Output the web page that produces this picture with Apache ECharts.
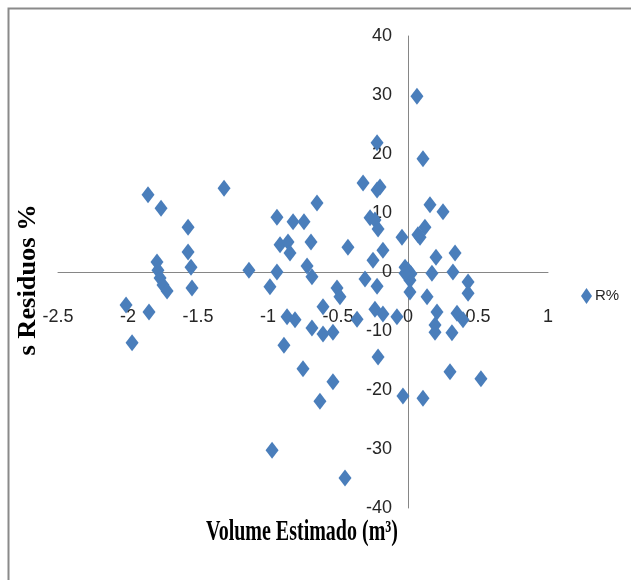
<!DOCTYPE html>
<html>
<head>
<meta charset="utf-8">
<script src="https://cdn.jsdelivr.net/npm/echarts@6/dist/echarts.min.js"></script>
<style>
html,body{margin:0;padding:0;background:#fff;}
#chart{width:631px;height:580px;}
</style>
</head>
<body>
<div id="chart"></div>
<script>
// Volume Estimado (m3)
var volume = [
  -1.857,-1.764,-1.571,-1.571,-1.55,-1.543,-1.314,-1.793,-1.786,-1.771,
  -1.75,-1.721,-2.014,-1.85,-1.971,-1.136,-0.936,-0.821,-0.743,-0.65,
  -0.936,-0.986,-0.914,-0.857,-0.843,-0.864,-0.807,-0.886,-0.693,-0.721,
  -0.686,-0.429,-0.321,-0.221,-0.2,-0.271,-0.236,-0.214,-0.179,-0.25,
  -0.307,-0.221,-0.507,-0.486,-0.607,-0.686,-0.607,-0.536,-0.364,-0.236,
  -0.179,-0.079,-0.75,-0.214,-0.536,-0.629,-0.971,-0.45,-0.036,0.107,
  0.064,-0.221,0.107,0.157,0.25,0.121,0.086,-0.043,0.2,0.336,
  0.0,0.171,0.321,0.014,0.014,0.429,0.429,0.136,0.207,0.193,
  0.193,0.35,0.393,0.314,0.3,0.521,-0.021,0.021,-0.021,0.071
];
// Resíduos %
var residuos = [
  13.1,10.8,7.6,3.4,0.8,-2.7,14.2,1.7,0.3,-1.0,
  -2.2,-3.2,-5.6,-6.8,-12.0,0.3,9.3,8.5,8.5,11.7,
  0.0,-2.5,4.6,5.1,3.2,-7.6,-8.1,-12.4,5.1,1.0,
  -0.8,4.2,15.1,13.9,14.4,9.2,8.8,7.3,3.7,2.0,
  -1.2,-2.4,-2.7,-4.2,-5.9,-9.5,-10.5,-10.2,-8.0,-6.3,
  -7.1,-7.6,-16.4,-14.4,-18.6,-21.9,-30.2,-34.9,-21.0,-21.4,
  29.8,21.9,19.2,11.4,10.2,7.6,5.9,5.9,2.5,3.2,
  0.3,-0.2,0.0,-1.4,-3.4,-1.7,-3.6,-4.2,-6.8,-9.0,
  -10.2,-7.0,-8.1,-10.3,-16.9,-18.1,0.8,-0.3,-0.2,6.3
];
var xTicks = {min:-2.5, max:1, interval:0.5};
var yTicks = {min:-40, max:40, interval:10};
var seriesName = 'R%';
var xTitle = 'Volume Estimado (m\u00b3)';
var yTitle = 's Residuos %';

var points = volume.map(function(v,i){ return [v, residuos[i]]; });

var labelFont = '"Liberation Sans",Arial,sans-serif';
var chart = echarts.init(document.getElementById('chart'), null, {renderer:'canvas'});
var W = 631, H = 580, gl = 58, gr = 83, gt = 36, gb = 72;
var plotW = W - gl - gr, plotH = H - gt - gb;
// place each axis at the other axis' zero
var yOffset = -plotW * (0 - xTicks.min) / (xTicks.max - xTicks.min);
var xOffset = -plotH * (0 - yTicks.min) / (yTicks.max - yTicks.min);
chart.setOption({
  animation:false,
  backgroundColor:'#ffffff',
  grid:{left:gl, right:gr, top:gt, bottom:gb, containLabel:false},
  xAxis:{
    type:'value', min:xTicks.min, max:xTicks.max, interval:xTicks.interval,
    position:'bottom', offset:xOffset,
    axisLine:{show:true, onZero:false, lineStyle:{color:'#868686', width:1}},
    axisTick:{show:false},
    splitLine:{show:false},
    axisLabel:{margin:36, fontSize:18, color:'#262626', fontFamily:labelFont, showMinLabel:true, showMaxLabel:true,
      formatter:function(v){ return String(Math.round(v*10)/10); }}
  },
  yAxis:{
    type:'value', min:yTicks.min, max:yTicks.max, interval:yTicks.interval,
    position:'left', offset:yOffset,
    axisLine:{show:true, onZero:false, lineStyle:{color:'#868686', width:1}},
    axisTick:{show:false},
    splitLine:{show:false},
    axisLabel:{margin:16, fontSize:18, color:'#262626', fontFamily:labelFont, showMinLabel:true, showMaxLabel:true}
  },
  legend:{
    show:true, orient:'vertical', left:576, top:283,
    itemWidth:11, itemHeight:16, itemGap:4,
    icon:'diamond',
    textStyle:{fontSize:15, color:'#262626', fontFamily:labelFont, padding:[0,0,0,-2]},
    data:[seriesName]
  },
  series:[{
    name:seriesName, type:'scatter', symbol:'diamond', symbolSize:[13,17],
    itemStyle:{color:'#4A7EBB', opacity:1},
    data:points
  }],
  graphic:[
    {type:'rect', left:6, top:6, silent:true, z:-1,
      shape:{x:0,y:0,width:720,height:700},
      style:{fill:'none', stroke:'#8a8a8a', lineWidth:2}},
    {type:'text', x:302, y:533, silent:true, scaleY:1.45,
      style:{text:xTitle, fill:'#000', font:'bold 20px "Liberation Serif","Times New Roman",serif', textAlign:'center', textVerticalAlign:'middle'}},
    {type:'text', x:29, y:280, rotation:Math.PI/2, silent:true, scaleX:1.2, scaleY:1.1,
      style:{text:yTitle, fill:'#000', font:'bold 22px "Liberation Serif","Times New Roman",serif', textAlign:'center', textVerticalAlign:'middle'}}
  ]
});
</script>
</body>
</html>
